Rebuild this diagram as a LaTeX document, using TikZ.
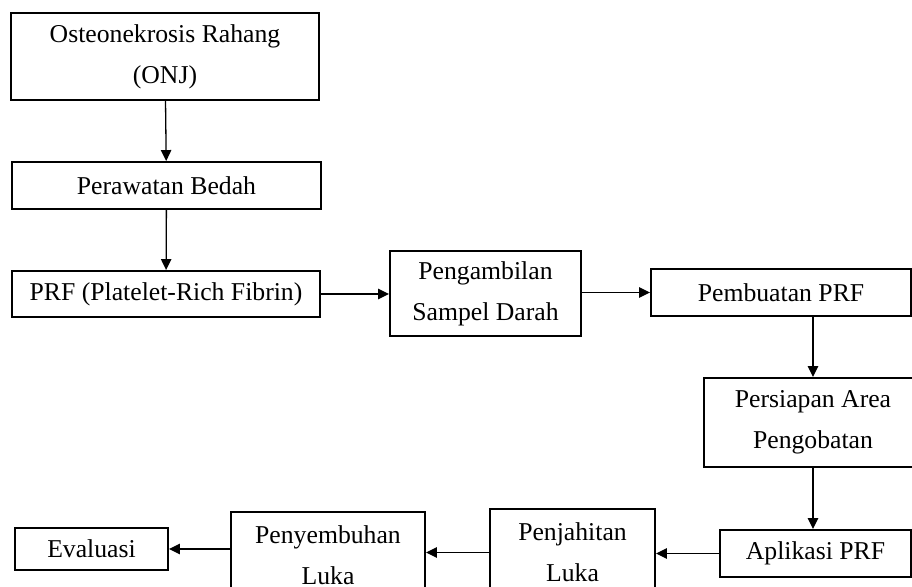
\documentclass[tikz,border=0pt]{standalone}
\usepackage{fontspec}
\setmainfont{Liberation Serif}
\usetikzlibrary{arrows.meta}

\begin{document}
\begin{tikzpicture}[x=0.5pt, y=-0.5pt,
    stepbox/.style={draw, line width=0.95pt, inner sep=0pt, align=center,
        font=\fontsize{12.85}{20.5}\selectfont},
    flow/.style={-{Triangle[length=5.5pt, width=5.2pt]}, line width=0.65pt}]
                \path[use as bounding box, clip] (0,0) rectangle (912,587);

                % Left column
                \node[stepbox, minimum width=154pt, minimum height=43.5pt] (osteo) at (165,56.5) {Osteonekrosis Rahang\\(ONJ)};
                \node[stepbox, minimum width=154.5pt, minimum height=23.5pt] (bedah) at (166.5,185.5) {Perawatan Bedah};
                \node[stepbox, minimum width=154pt, minimum height=23pt] (prf) at (166,294) {PRF (Platelet-Rich Fibrin)};

                % Middle row
                \node[stepbox, minimum width=95.5pt, minimum height=42.5pt] (sampel) at (485.5,293.5) {Pengambilan\\Sampel Darah};
                \node[stepbox, minimum width=130pt, minimum height=23.5pt] (pembuatan) at (781,292.5) {Pembuatan PRF};

                % Right column
                \node[stepbox, minimum width=109pt, minimum height=44.5pt] (persiapan) at (813,422.5) {Persiapan Area\\Pengobatan};
                \node[stepbox, minimum width=95.5pt, minimum height=23.5pt] (aplikasi) at (815.5,553.5) {Aplikasi PRF};

                % Bottom row
                \node[stepbox, minimum width=82.5pt, minimum height=43.5pt] (penjahitan) at (572.5,552.5) {Penjahitan\\Luka};
                \node[stepbox, minimum width=97pt, minimum height=43.5pt] (penyembuhan) at (328,555.5) {Penyembuhan\\Luka};
                \node[stepbox, minimum width=76.5pt, minimum height=21pt] (evaluasi) at (91.5,549) {Evaluasi};

                % Connectors
                \draw[flow] (osteo) -- (bedah);
                \draw[flow] (bedah) -- (prf);
                \draw[flow] (prf.east) -- (sampel.west |- prf.east);
                \draw[flow] (sampel.east |- pembuatan.west) -- (pembuatan.west);
                \draw[flow] (pembuatan.south -| persiapan.north) -- (persiapan.north);
                \draw[flow] (persiapan.south) -- (persiapan.south |- aplikasi.north);
                \draw[flow] (aplikasi.west) -- (aplikasi.west -| penjahitan.east);
                \draw[flow] (penjahitan.west) -- (penjahitan.west -| penyembuhan.east);
                \draw[flow] (penyembuhan.west |- evaluasi.east) -- (evaluasi.east);
            \end{tikzpicture}
\end{document}
